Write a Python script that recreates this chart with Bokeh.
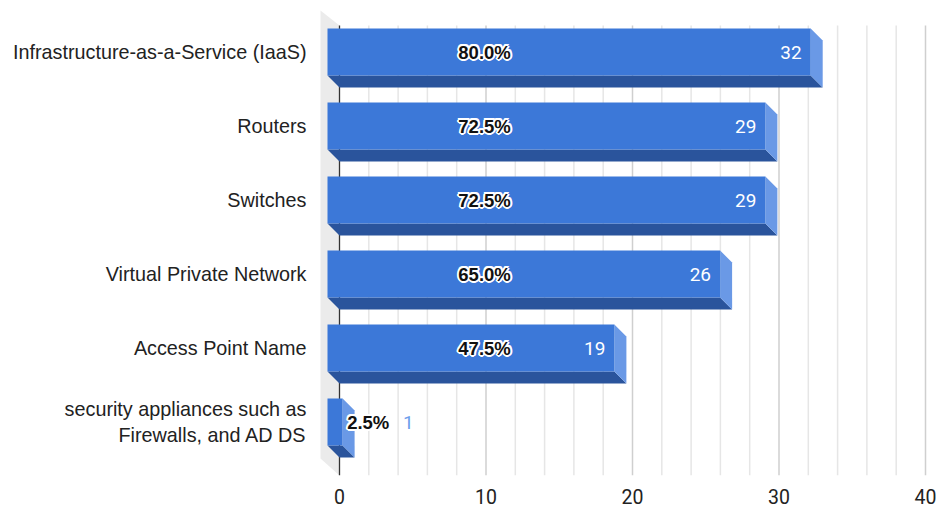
from bokeh.plotting import figure
from bokeh.models import Range1d, FixedTicker, ColumnDataSource
from bokeh.core.properties import value
from bokeh.embed import file_html
from bokeh.resources import INLINE

# ---------------- data ----------------
categories = [
    "Infrastructure-as-a-Service (IaaS)",
    "Routers",
    "Switches",
    "Virtual Private Network",
    "Access Point Name",
    "security appliances such as\nFirewalls, and AD DS",
]
counts = [32, 29, 29, 26, 19, 1]
percents = [80.0, 72.5, 72.5, 65.0, 47.5, 2.5]
x_ticks = [0, 10, 20, 30, 40]

# ---------------- layout / style constants ----------------
W, H = 940, 509
FRAME_L, FRAME_W, FRAME_H = 310, 630, 475
AXIS0 = 29.0      # px from frame left where value 0 sits on the back wall
MAIN_PPU = 14.65  # px per unit on the back wall
BAR0 = 17.0       # px from frame left where bar front faces start
BAR_PPU = 15.1    # px per unit of the bar front faces
ROW0, ROW_PX = 51.5, 74.0
DEPTH = 12.0      # 3D depth in px

FRONT = "#3c78d8"
BOTTOM = "#2a549c"
SIDE = "#6a99e6"
TEXT = "#222222"

x_main = Range1d(-AXIS0 / MAIN_PPU, (FRAME_W - AXIS0) / MAIN_PPU)
x_bar = Range1d(-BAR0 / BAR_PPU, (FRAME_W - BAR0) / BAR_PPU)
y_rng = Range1d((FRAME_H - ROW0) / ROW_PX, -ROW0 / ROW_PX)

p = figure(width=W, height=H, x_range=x_main, y_range=y_rng,
           output_backend="svg", toolbar_location=None,
           min_border_left=FRAME_L, min_border_right=0,
           min_border_top=0, min_border_bottom=H - FRAME_H)
p.extra_x_ranges = {"bar": x_bar}
p.grid.visible = False
p.outline_line_color = None
p.background_fill_color = "white"

dxb = DEPTH / BAR_PPU
dy = DEPTH / ROW_PX
half = 23.5 / ROW_PX

# back-wall extents
top_back = (25 - ROW0) / ROW_PX
bot_back = (475 - ROW0) / ROW_PX
wall_x = -19 / MAIN_PPU

# left wall
p.patch(x=[wall_x, 0, 0, wall_x],
        y=[top_back - 15 / ROW_PX, top_back, bot_back, bot_back - 17 / ROW_PX],
        fill_color="#ebebeb", line_color=None)

# grid lines
grid_x = list(range(2, 41, 2))
minor = [g for g in grid_x if g % 10 != 0]
major = [g for g in grid_x if g % 10 == 0]
p.segment(x0=minor, y0=[top_back] * len(minor), x1=minor, y1=[bot_back] * len(minor),
          line_color="#e6e6e6", line_width=1.5)
p.segment(x0=major, y0=[top_back] * len(major), x1=major, y1=[bot_back] * len(major),
          line_color="#cfcfcf", line_width=1.5)
p.segment(x0=[0], y0=[top_back], x1=[0], y1=[bot_back], line_color="#333333", line_width=1.3)

# bars
idx = list(range(len(categories)))
tops = [i - half for i in idx]
bots = [i + half for i in idx]

bottom_xs = [[0, v, v + dxb, dxb] for v in counts]
bottom_ys = [[b, b, b + dy, b + dy] for b in bots]
side_xs = [[v, v + dxb, v + dxb, v] for v in counts]
side_ys = [[t, t + dy, b + dy, b] for t, b in zip(tops, bots)]

p.patches(xs=bottom_xs, ys=bottom_ys, fill_color=BOTTOM, line_color=None, x_range_name="bar")
p.patches(xs=side_xs, ys=side_ys, fill_color=SIDE, line_color=None, x_range_name="bar")
p.quad(left=[0] * len(counts), right=counts, top=tops, bottom=bots,
       fill_color=FRONT, line_color=None, x_range_name="bar")

# percentage labels (bold black with white halo)
big = [c >= 3 for c in counts]
pct_text = [f"{v:.1f}%" for v in percents]
pct_src_in = ColumnDataSource(dict(
    x=[9.9 for c, b in zip(counts, big) if b],
    y=[i for i, b in zip(idx, big) if b],
    t=[t for t, b in zip(pct_text, big) if b]))
pct_src_out = ColumnDataSource(dict(
    x=[c + 0.3 for c, b in zip(counts, big) if not b],
    y=[i for i, b in zip(idx, big) if not b],
    t=[t for t, b in zip(pct_text, big) if not b]))

halo = [(-2, 0), (2, 0), (0, -2), (0, 2), (-1.4, -1.4), (1.4, 1.4), (-1.4, 1.4), (1.4, -1.4)]
for src, align, rng in [(pct_src_in, "center", "default"), (pct_src_out, "left", "bar")]:
    for ox, oy in halo:
        p.text(x="x", y="y", text="t", source=src, x_offset=ox, y_offset=oy,
               text_color="white", text_font=value("Liberation Sans"), text_font_style="bold",
               text_font_size="18.5px", text_align=align, text_baseline="middle",
               x_range_name=rng)
    p.text(x="x", y="y", text="t", source=src,
           text_color="#111111", text_font=value("Liberation Sans"), text_font_style="bold",
           text_font_size="18.5px", text_align=align, text_baseline="middle",
           x_range_name=rng)

# count labels
cnt_in = ColumnDataSource(dict(
    x=[c - 0.6 for c, b in zip(counts, big) if b],
    y=[i for i, b in zip(idx, big) if b],
    t=[str(c) for c, b in zip(counts, big) if b]))
cnt_out = ColumnDataSource(dict(
    x=[c + 4.0 for c, b in zip(counts, big) if not b],
    y=[i for i, b in zip(idx, big) if not b],
    t=[str(c) for c, b in zip(counts, big) if not b]))
p.text(x="x", y="y", text="t", source=cnt_in, text_color="white",
       text_font=value("Roboto"), text_font_size="19px", text_align="right",
       text_baseline="middle", x_range_name="bar")
p.text(x="x", y="y", text="t", source=cnt_out, text_color="#6d9eeb",
       text_font=value("Roboto"), text_font_size="19px", text_align="left",
       text_baseline="middle", x_range_name="bar")

# axes
xa = p.xaxis[0]
xa.ticker = FixedTicker(ticks=x_ticks)
xa.axis_line_color = None
xa.major_tick_line_color = None
xa.minor_tick_line_color = None
xa.major_tick_out = 0
xa.major_tick_in = 0
xa.major_label_standoff = 13
xa.major_label_text_line_height = 0.8
xa.major_label_text_font = "Roboto"
xa.major_label_text_font_size = "19.5px"
xa.major_label_text_color = TEXT

ya = p.yaxis[0]
ya.ticker = FixedTicker(ticks=idx)
ya.major_label_overrides = {i: c for i, c in zip(idx, categories)}
ya.axis_line_color = None
ya.major_tick_line_color = None
ya.minor_tick_line_color = None
ya.major_tick_out = 0
ya.major_tick_in = 0
ya.major_label_standoff = 4
ya.major_label_text_font = "Liberation Sans"
ya.major_label_text_font_size = "19.8px"
ya.major_label_text_color = TEXT

open("out.html", "w").write(file_html(p, INLINE))
